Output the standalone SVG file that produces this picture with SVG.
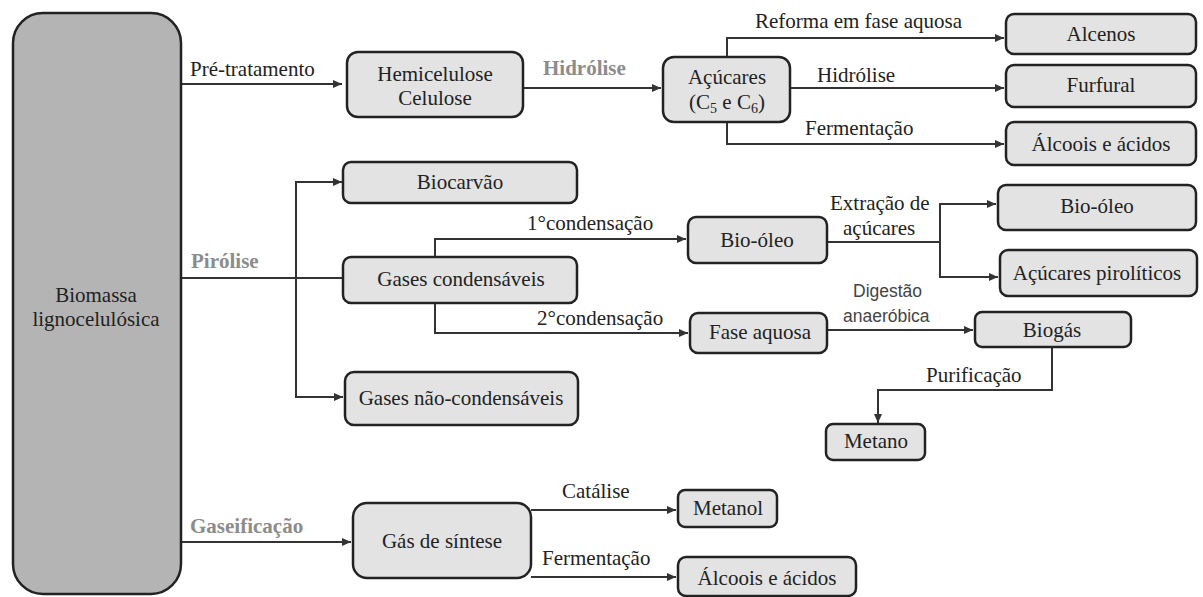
<svg xmlns="http://www.w3.org/2000/svg" width="1203" height="597" viewBox="0 0 1203 597">
<style>
.box{fill:#e3e3e3;stroke:#222;stroke-width:2.5}
.big{fill:#b4b4b4;stroke:#222;stroke-width:2.5}
.t{font-family:'Liberation Serif','DejaVu Serif',serif;font-size:21px;fill:#222}
.c{text-anchor:middle}
.g{font-family:'Liberation Serif','DejaVu Serif',serif;font-size:21px;font-weight:bold;fill:#8c8c8c}
.s{font-family:'Liberation Sans','DejaVu Sans',sans-serif;font-size:17.5px;fill:#444}
.ln{fill:none;stroke:#333;stroke-width:2}
.ar{marker-end:url(#ah)}
</style>
<defs>
<marker id="ah" markerWidth="10" markerHeight="10" refX="9" refY="5" orient="auto" markerUnits="userSpaceOnUse">
<path d="M0,1 L9,5 L0,9 Z" fill="#333"/>
</marker>
</defs>
<rect width="1203" height="597" fill="#fff"/>

<g id="connectors">
<path class="ln ar" d="M181,84 H342"/>
<path class="ln ar" d="M523,88 H661"/>
<path class="ln ar" d="M727,57 V38 H1004"/>
<path class="ln ar" d="M790,88 H1004"/>
<path class="ln ar" d="M727,122 V144 H1004"/>
<path class="ln" d="M181,278 H343"/>
<path class="ln ar" d="M296,278 V182 H342"/>
<path class="ln ar" d="M296,278 V397 H343"/>
<path class="ln ar" d="M435,257 V239 H686"/>
<path class="ln ar" d="M435,303 V333 H688"/>
<path class="ln" d="M827,242 H940"/>
<path class="ln ar" d="M940,242 V204 H996"/>
<path class="ln ar" d="M940,242 V277 H998"/>
<path class="ln ar" d="M827,330 H973"/>
<path class="ln ar" d="M1052,347 V390 H878 V423"/>
<path class="ln ar" d="M181,542 H351"/>
<path class="ln ar" d="M531,510 H676"/>
<path class="ln ar" d="M531,577 H676"/>
</g>

<g id="edge-labels">
<text class="t" x="190" y="76">Pré-tratamento</text>
<text class="g" x="543" y="75">Hidrólise</text>
<text class="t" x="755" y="28">Reforma em fase aquosa</text>
<text class="t" x="817" y="82">Hidrólise</text>
<text class="t" x="805" y="135">Fermentação</text>
<text class="g" x="191" y="268">Pirólise</text>
<text class="t" x="527" y="230">1°condensação</text>
<text class="t" x="537" y="325">2°condensação</text>
<text class="t" x="830" y="210">Extração de</text>
<text class="t" x="843" y="235">açúcares</text>
<text class="s" x="853" y="297">Digestão</text>
<text class="s" x="843" y="322">anaeróbica</text>
<text class="t" x="926" y="382">Purificação</text>
<text class="g" x="190" y="533">Gaseificação</text>
<text class="t" x="562" y="498">Catálise</text>
<text class="t" x="542" y="565">Fermentação</text>
</g>

<g id="biomassa">
<rect class="big" x="13" y="13" width="168" height="581" rx="30"/>
<text class="t c" x="96" y="302">Biomassa</text>
<text class="t c" x="96" y="326">lignocelulósica</text>
</g>
<g id="hemicelulose">
<rect class="box" x="347" y="52" width="176" height="65" rx="11"/>
<text class="t c" x="435" y="81">Hemicelulose</text>
<text class="t c" x="435" y="105">Celulose</text>
</g>
<g id="acucares">
<rect class="box" x="663" y="57" width="127" height="65" rx="11"/>
<text class="t c" x="727" y="84">Açúcares</text>
<text class="t c" x="727" y="109">(C<tspan font-size="14" dy="4">5</tspan><tspan dy="-4"> e C</tspan><tspan font-size="14" dy="4">6</tspan><tspan dy="-4">)</tspan></text>
</g>
<g id="alcenos">
<rect class="box" x="1006" y="14" width="190" height="40" rx="8"/>
<text class="t c" x="1101" y="41">Alcenos</text>
</g>
<g id="furfural">
<rect class="box" x="1006" y="65" width="190" height="42" rx="8"/>
<text class="t c" x="1101" y="92">Furfural</text>
</g>
<g id="alcoois1">
<rect class="box" x="1006" y="122" width="190" height="43" rx="8"/>
<text class="t c" x="1101" y="151">Álcoois e ácidos</text>
</g>
<g id="biocarvao">
<rect class="box" x="343" y="162" width="234" height="41" rx="8"/>
<text class="t c" x="460" y="189">Biocarvão</text>
</g>
<g id="gases-cond">
<rect class="box" x="343" y="257" width="234" height="46" rx="8"/>
<text class="t c" x="461" y="286">Gases condensáveis</text>
</g>
<g id="gases-nao-cond">
<rect class="box" x="345" y="372" width="233" height="53" rx="9"/>
<text class="t c" x="461" y="405">Gases não-condensáveis</text>
</g>
<g id="bio-oleo-1">
<rect class="box" x="688" y="217" width="139" height="46" rx="8"/>
<text class="t c" x="757" y="247">Bio-óleo</text>
</g>
<g id="fase-aquosa">
<rect class="box" x="690" y="313" width="137" height="40" rx="8"/>
<text class="t c" x="760" y="339">Fase aquosa</text>
</g>
<g id="bio-oleo-2">
<rect class="box" x="998" y="185" width="198" height="45" rx="8"/>
<text class="t c" x="1097" y="213">Bio-óleo</text>
</g>
<g id="acucares-piroliticos">
<rect class="box" x="1000" y="250" width="197" height="46" rx="8"/>
<text class="t c" x="1097" y="280">Açúcares pirolíticos</text>
</g>
<g id="biogas">
<rect class="box" x="975" y="312" width="156" height="35" rx="7"/>
<text class="t c" x="1052" y="337">Biogás</text>
</g>
<g id="metano">
<rect class="box" x="826" y="424" width="99" height="36" rx="7"/>
<text class="t c" x="876" y="448">Metano</text>
</g>
<g id="gas-sintese">
<rect class="box" x="353" y="503" width="178" height="75" rx="14"/>
<text class="t c" x="442" y="548">Gás de síntese</text>
</g>
<g id="metanol">
<rect class="box" x="678" y="490" width="99" height="37" rx="7"/>
<text class="t c" x="728" y="515">Metanol</text>
</g>
<g id="alcoois2">
<rect class="box" x="678" y="557" width="178" height="39" rx="8"/>
<text class="t c" x="767" y="585">Álcoois e ácidos</text>
</g>
</svg>
